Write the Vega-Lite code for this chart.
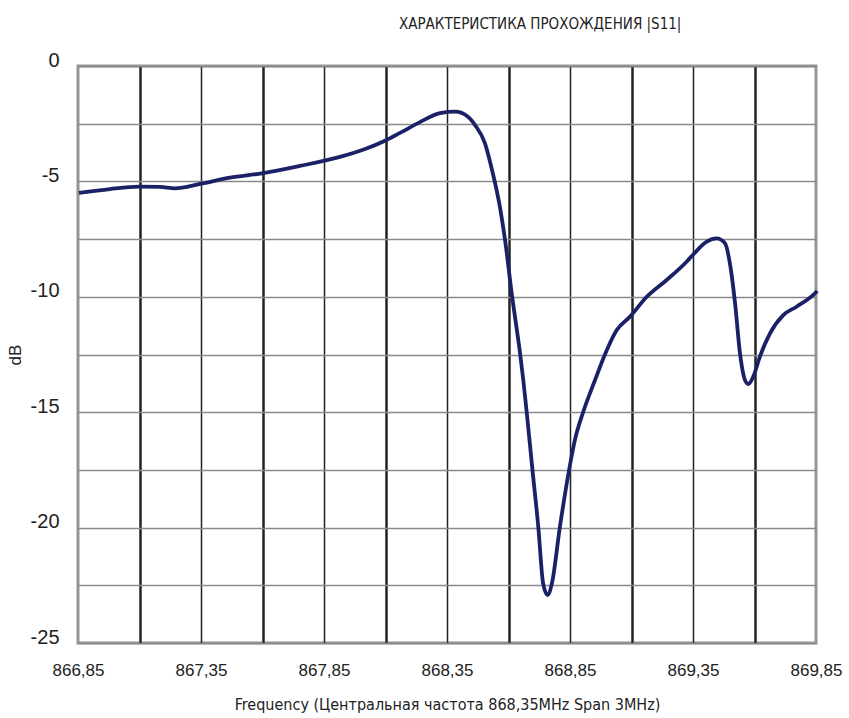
{
  "$schema": "https://vega.github.io/schema/vega-lite/v6.json",
  "width": 738,
  "height": 577,
  "autosize": {"type": "none"},
  "padding": {"left": 78, "top": 66, "right": 33, "bottom": 75},
  "background": "white",
  "config": {
    "view": {"stroke": "#959595", "strokeWidth": 3},
    "axis": {"labelFont": "Liberation Sans", "titleFont": "Liberation Sans", "labelColor": "#222", "titleColor": "#222"}
  },
  "title": {
    "text": "ХАРАКТЕРИСТИКА ПРОХОЖДЕНИЯ |S11|",
    "anchor": "start",
    "frame": "group",
    "dx": 321,
    "offset": 18,
    "font": "DejaVu Sans Condensed, sans-serif",
    "fontSize": 15,
    "fontWeight": "normal",
    "color": "#222"
  },
  "data": {
    "values": [
      {"f": 866.854, "db": -5.50},
      {"f": 866.980, "db": -5.33},
      {"f": 867.098, "db": -5.23},
      {"f": 867.183, "db": -5.24},
      {"f": 867.244, "db": -5.30},
      {"f": 867.346, "db": -5.11},
      {"f": 867.468, "db": -4.84},
      {"f": 867.598, "db": -4.65},
      {"f": 867.752, "db": -4.33},
      {"f": 867.915, "db": -3.94},
      {"f": 868.017, "db": -3.60},
      {"f": 868.098, "db": -3.24},
      {"f": 868.159, "db": -2.90},
      {"f": 868.240, "db": -2.43},
      {"f": 868.322, "db": -2.04},
      {"f": 868.383, "db": -1.98},
      {"f": 868.435, "db": -2.20},
      {"f": 868.464, "db": -2.56},
      {"f": 868.504, "db": -3.34},
      {"f": 868.533, "db": -4.50},
      {"f": 868.565, "db": -6.10},
      {"f": 868.586, "db": -7.54},
      {"f": 868.613, "db": -9.85},
      {"f": 868.647, "db": -12.45},
      {"f": 868.660, "db": -13.60},
      {"f": 868.674, "db": -15.00},
      {"f": 868.697, "db": -17.46},
      {"f": 868.721, "db": -19.96},
      {"f": 868.741, "db": -22.44},
      {"f": 868.759, "db": -22.92},
      {"f": 868.776, "db": -22.44},
      {"f": 868.809, "db": -19.96},
      {"f": 868.847, "db": -17.46},
      {"f": 868.870, "db": -16.20},
      {"f": 868.904, "db": -14.98},
      {"f": 868.952, "db": -13.60},
      {"f": 868.992, "db": -12.50},
      {"f": 869.040, "db": -11.44},
      {"f": 869.094, "db": -10.86},
      {"f": 869.162, "db": -10.00},
      {"f": 869.243, "db": -9.27},
      {"f": 869.324, "db": -8.48},
      {"f": 869.349, "db": -8.19},
      {"f": 869.406, "db": -7.61},
      {"f": 869.446, "db": -7.47},
      {"f": 869.480, "db": -7.68},
      {"f": 869.500, "db": -8.55},
      {"f": 869.521, "db": -10.28},
      {"f": 869.541, "db": -12.45},
      {"f": 869.561, "db": -13.60},
      {"f": 869.575, "db": -13.78},
      {"f": 869.595, "db": -13.46},
      {"f": 869.622, "db": -12.59},
      {"f": 869.663, "db": -11.58},
      {"f": 869.717, "db": -10.79},
      {"f": 869.771, "db": -10.43},
      {"f": 869.839, "db": -9.92},
      {"f": 869.855, "db": -9.75}
    ]
  },
  "mark": {"type": "line", "color": "#1b2166", "strokeWidth": 3.8, "interpolate": "monotone", "clip": false},
  "encoding": {
    "x": {
      "field": "f",
      "type": "quantitative",
      "scale": {"domain": [866.85, 869.85], "nice": false, "zero": false},
      "axis": {
        "values": [866.85, 867.1, 867.35, 867.6, 867.85, 868.1, 868.35, 868.6, 868.85, 869.1, 869.35, 869.6, 869.85],
        "labelExpr": "round((datum.value-866.85)*4)%2==0 ? replace(format(datum.value,'.2f'),'.',',') : ''",
        "labelFontSize": 17,
        "labelPadding": 19,
        "labelFlush": false,
        "labelOverlap": false,
        "grid": true,
        "gridColor": "#222",
        "gridWidth": {"condition": {"test": "round((datum.value-866.85)*4)%2==1", "value": 2.5}, "value": 1.5},
        "gridOpacity": {"condition": {"test": "datum.value<866.9 || datum.value>869.8", "value": 0}, "value": 1},
        "domain": false,
        "ticks": false,
        "title": "Frequency (Центральная частота 868,35MHz Span 3MHz)",
        "titleFont": "DejaVu Sans Condensed, sans-serif",
        "titleFontSize": 16,
        "titleFontWeight": "normal",
        "titlePadding": 18
      }
    },
    "y": {
      "field": "db",
      "type": "quantitative",
      "scale": {"domain": [-25, 0], "nice": false},
      "axis": {
        "values": [0, -2.5, -5, -7.5, -10, -12.5, -15, -17.5, -20, -22.5, -25],
        "labelExpr": "datum.value % 5 == 0 ? '' + datum.value : ''",
        "labelFontSize": 20,
        "labelPadding": 19,
        "labelOffset": -6,
        "labelFlush": false,
        "labelOverlap": false,
        "grid": true,
        "gridColor": "#8a8a8a",
        "gridWidth": 1.5,
        "domain": false,
        "ticks": false,
        "title": "dB",
        "titleFontSize": 17,
        "titleFontWeight": "normal",
        "titlePadding": 6
      }
    }
  }
}
